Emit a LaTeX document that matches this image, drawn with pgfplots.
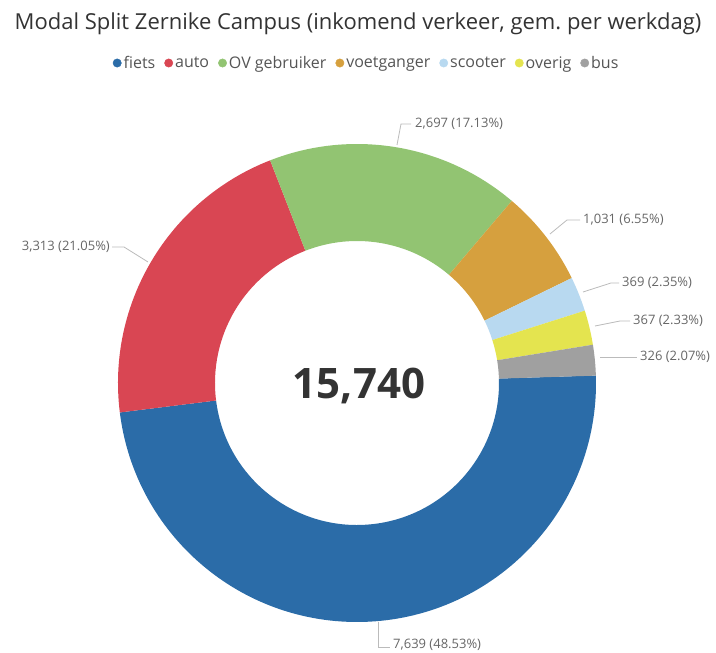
\documentclass[border=0pt]{standalone}
\usepackage{pgfplots}
\pgfplotsset{compat=1.18}
\usepackage{pgfplotstable}
\usepackage{fontspec}
\setmainfont{Open Sans}
\usetikzlibrary{calc}

\definecolor{cfiets}{HTML}{2B6CA8}
\definecolor{cauto}{HTML}{D94653}
\definecolor{cov}{HTML}{92C472}
\definecolor{cvoet}{HTML}{D6A03E}
\definecolor{cscoot}{HTML}{B8D9F0}
\definecolor{coverig}{HTML}{E4E44F}
\definecolor{cbus}{HTML}{A0A0A0}
\definecolor{titlegray}{HTML}{333333}
\definecolor{legendgray}{HTML}{555555}
\definecolor{labelgray}{HTML}{666666}
\definecolor{leadergray}{HTML}{BBBBBB}

% modal split, incoming traffic per working day
\pgfplotstableread{
mode value col
fiets 7639 cfiets
auto 3313 cauto
OV 2697 cov
voetganger 1031 cvoet
scooter 369 cscoot
overig 367 coverig
bus 326 cbus
}\modal

\begin{document}
\begin{tikzpicture}
\begin{axis}[
    width=716pt, height=653pt, scale only axis,
    xmin=0, xmax=716, ymin=0, ymax=653,
    hide axis, clip=false,
    title={Modal Split Zernike Campus (inkomend verkeer, gem.\ per werkdag)},
    title style={at={(0.5,0.954)}, anchor=center, inner sep=0pt,
        font=\fontsize{22}{26}\selectfont, text=titlegray},
    legend columns=-1,
    legend style={at={(0.512,0.9035)}, anchor=center, draw=none, fill=none,
        font=\fontsize{16}{19}\selectfont, text=legendgray,
        /tikz/every even column/.append style={column sep=7pt}},
    legend image code/.code={\fill[#1] (4.5pt,0pt) circle (4.2pt);},
]
\addlegendimage{cfiets}\addlegendentry{fiets}
\addlegendimage{cauto}\addlegendentry{auto}
\addlegendimage{cov}\addlegendentry{OV gebruiker}
\addlegendimage{cvoet}\addlegendentry{voetganger}
\addlegendimage{cscoot}\addlegendentry{scooter}
\addlegendimage{coverig}\addlegendentry{overig}
\addlegendimage{cbus}\addlegendentry{bus}

% donut slices, clockwise from just above 3 o'clock
\coordinate (C) at (axis cs:357,270);
\gdef\startang{1.8}
\foreach \i in {0,...,6}{
    \pgfplotstablegetelem{\i}{value}\of\modal \let\v\pgfplotsretval
    \pgfplotstablegetelem{\i}{col}\of\modal \let\c\pgfplotsretval
    \pgfmathsetmacro\a{\startang}
    \pgfmathsetmacro\b{\startang-\v/15740*360}
    \edef\temp{\noexpand\fill[\c] ($(C)+(\a:239pt)$)
        arc[start angle=\a, end angle=\b, radius=239pt]
        -- ($(C)+(\b:142pt)$)
        arc[start angle=\b, end angle=\a, radius=142pt] -- cycle;}
    \temp
    \xdef\startang{\b}
}

\node[font=\bfseries\fontsize{42}{50}\selectfont, text=titlegray]
    at (axis cs:359,267) {15,740};

% data labels with leader lines
\begin{scope}[leadergray, line width=0.8pt]
\draw (axis cs:397,508) -- (axis cs:401,529) -- (axis cs:411,529);
\draw (axis cs:112,406) -- (axis cs:124,406) -- (axis cs:148,391);
\draw (axis cs:550,419) -- (axis cs:567,433) -- (axis cs:580,433);
\draw (axis cs:583,361) -- (axis cs:611,370) -- (axis cs:619,370);
\draw (axis cs:595,327) -- (axis cs:620,332) -- (axis cs:630,332);
\draw (axis cs:600,296) -- (axis cs:637,296);
\draw (axis cs:378,31) -- (axis cs:378,6) -- (axis cs:390,6);
\end{scope}
\begin{scope}[every node/.style={text=labelgray, font=\fontsize{13}{16}\selectfont, inner sep=1pt}]
\node[anchor=west] at (axis cs:414,529) {2,697 (17.13\%)};
\node[anchor=east] at (axis cs:111,406) {3,313 (21.05\%)};
\node[anchor=west] at (axis cs:582,433) {1,031 (6.55\%)};
\node[anchor=west] at (axis cs:621,370) {369 (2.35\%)};
\node[anchor=west] at (axis cs:632,332) {367 (2.33\%)};
\node[anchor=west] at (axis cs:639,296) {326 (2.07\%)};
\node[anchor=west] at (axis cs:392,8) {7,639 (48.53\%)};
\end{scope}
\end{axis}
\pgfresetboundingbox
\path (0,0) rectangle (716pt,653pt);
\end{tikzpicture}
\end{document}
